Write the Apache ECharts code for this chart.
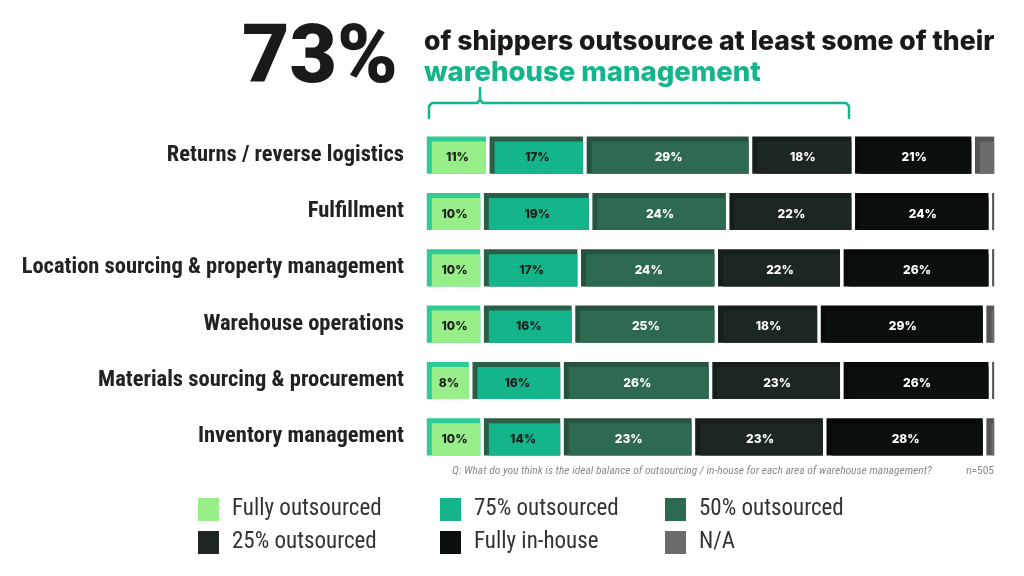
<!DOCTYPE html>
<html>
<head>
<meta charset="utf-8">
<script src="https://cdn.jsdelivr.net/npm/echarts@6/dist/echarts.min.js"></script>
<style>
html,body{margin:0;padding:0;background:#fff;}
#chart{width:1024px;height:576px;}
</style>
</head>
<body>
<div id="chart"></div>
<script>
const categories = ['Returns / reverse logistics', 'Fulfillment', 'Location sourcing & property management', 'Warehouse operations', 'Materials sourcing & procurement', 'Inventory management'];
const seriesNames = ['Fully outsourced', '75% outsourced', '50% outsourced', '25% outsourced', 'Fully in-house', 'N/A'];
const fullyOutsourced = [11, 10, 10, 10, 8, 10];
const outsourced75 = [17, 19, 17, 16, 16, 14];
const outsourced50 = [29, 24, 24, 25, 26, 23];
const outsourced25 = [18, 22, 22, 18, 23, 23];
const fullyInHouse = [21, 24, 26, 29, 26, 28];
const notApplicable = [4, 1, 1, 2, 1, 2];

const mainColors = ['#98ef8a', '#15b58b', '#2e6a51', '#1c2722', '#0b0f0d', '#6b6b6b'];
const shadeColors = ['#2ecb94', '#2b5e47', '#25523f', '#151e1a', '#070a09', '#555555'];
const labelColors = ['#1a1a1a', '#1a1a1a', '#ffffff', '#ffffff', '#ffffff', null];

const values = [fullyOutsourced, outsourced75, outsourced50, outsourced25, fullyInHouse, notApplicable];

// cumulative start / end for each segment
const cumulative = categories.map(() => 0);
const seriesData = values.map(arr => arr.map((v, i) => {
  const s = cumulative[i];
  cumulative[i] += v;
  return [s, cumulative[i], i, v];
}));

const FONT_COND = "'Roboto Condensed', 'Liberation Sans Narrow', 'DejaVu Sans Condensed', Roboto, sans-serif";

function makeRender(si) {
  return function (params, api) {
    const s = api.value(0), e = api.value(1), c = api.value(2), v = api.value(3);
    const a = api.coord([s, c]);
    const b = api.coord([e, c]);
    const band = api.size([0, 1])[1];
    const h = band * 0.66;
    const gap = 1.8;
    const x0 = a[0] + gap, x1 = b[0] - gap;
    const y0 = a[1] - h / 2, y1 = a[1] + h / 2;
    const w = Math.max(x1 - x0, 1);
    const sh = 5;
    const children = [
      { type: 'rect', shape: { x: x0, y: y0, width: w, height: h }, style: { fill: shadeColors[si] } }
    ];
    if (w > sh + 1) {
      children.push({ type: 'rect', shape: { x: x0 + sh, y: y0 + sh, width: w - sh, height: h - sh }, style: { fill: mainColors[si] } });
    }
    if (labelColors[si]) {
      children.push({
        type: 'text',
        style: {
          text: v + '%', x: (x0 + x1) / 2 + 1, y: (y0 + sh + y1) / 2,
          align: 'center', verticalAlign: 'middle',
          font: "800 12px Inter, 'Open Sans', sans-serif",
          fill: labelColors[si]
        }
      });
    }
    return { type: 'group', children };
  };
}

const series = seriesNames.map((name, si) => ({
  name,
  type: 'custom',
  renderItem: makeRender(si),
  itemStyle: { color: mainColors[si] },
  encode: { x: [0, 1], y: 2 },
  data: seriesData[si],
  silent: true
}));

const legendText = { fontSize: 23, color: '#333', fontFamily: FONT_COND, padding: [0, 0, 0, 8] };
function legendCol(left, names) {
  return {
    orient: 'vertical', left, top: 498, padding: 0, itemWidth: 21, itemHeight: 23, itemGap: 10,
    icon: 'rect', selectedMode: false, textStyle: legendText,
    data: names.map(n => ({ name: n, itemStyle: { color: mainColors[seriesNames.indexOf(n)] } }))
  };
}

const chart = echarts.init(document.getElementById('chart'));
chart.setOption({
  backgroundColor: '#ffffff',
  animation: false,
  title: [
    { text: '73%', left: 242, top: 20, padding: 0, textStyle: { fontSize: 82, fontWeight: 900, color: '#1a1a1a', fontFamily: 'Roboto, sans-serif' } },
    {
      text: '{a|of shippers outsource at least some of their}\n{b|warehouse management}',
      left: 424, top: 26, padding: 0,
      textStyle: {
        rich: {
          a: { fontSize: 26.6, fontWeight: 800, color: '#1a1a1a', fontFamily: 'Inter, Lato, sans-serif', lineHeight: 31 },
          b: { fontSize: 27.5, fontWeight: 800, color: '#15b58b', fontFamily: 'Inter, Lato, sans-serif', lineHeight: 31 }
        }
      }
    },
    {
      text: 'Q: What do you think is the ideal balance of outsourcing / in-house for each area of warehouse management?',
      left: 452, top: 465, padding: 0,
      textStyle: { fontSize: 11.5, fontStyle: 'italic', fontWeight: 'normal', color: '#8a8a8a', fontFamily: FONT_COND }
    },
    {
      text: 'n=505', right: 30, top: 465, padding: 0,
      textStyle: { fontSize: 11.5, fontWeight: 'normal', color: '#8a8a8a', fontFamily: FONT_COND }
    }
  ],
  graphic: [{
    type: 'polyline',
    shape: { points: [[429, 118], [429, 106], [432, 103], [477, 103], [480, 100], [480, 88], [480, 100], [483, 103], [846, 103], [849, 106], [849, 118]] },
    style: { stroke: '#15b58b', lineWidth: 2.5, fill: null, lineJoin: 'round', lineCap: 'round' }
  }],
  legend: [
    legendCol(198, ['Fully outsourced', '25% outsourced']),
    legendCol(440, ['75% outsourced', 'Fully in-house']),
    legendCol(665, ['50% outsourced', 'N/A'])
  ],
  grid: { left: 425, right: 28, top: 127, height: 338 },
  xAxis: { type: 'value', min: 0, max: 100, show: false },
  yAxis: {
    type: 'category', data: categories, inverse: true,
    axisLine: { show: false }, axisTick: { show: false },
    axisLabel: { fontSize: 22.5, fontWeight: 'bold', color: '#222', fontFamily: FONT_COND, margin: 21 }
  },
  series
});
</script>
</body>
</html>
